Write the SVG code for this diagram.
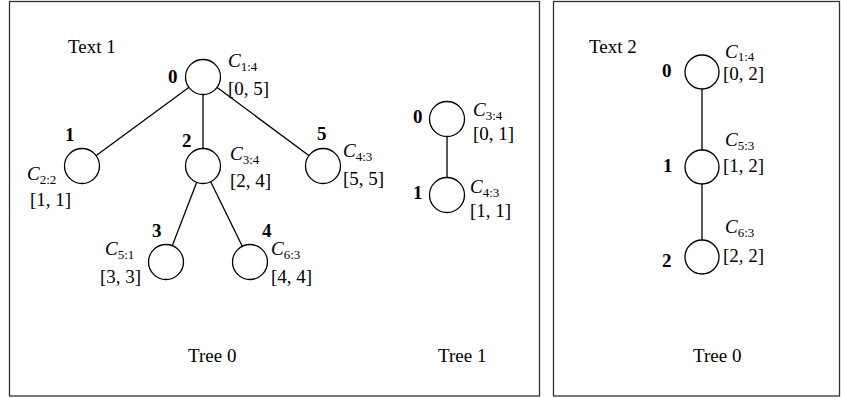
<svg xmlns="http://www.w3.org/2000/svg" width="841" height="398" viewBox="0 0 841 398">
<style>
.frame{fill:#fff;stroke:#333;stroke-width:1.3}
.nd{fill:#fff;stroke:#000;stroke-width:1.3}
.ed{stroke:#000;stroke-width:1.3;fill:none}
text{font-family:"Liberation Serif","Times New Roman",serif;font-size:19px;fill:#000}
.b{font-weight:bold}
.i{font-style:italic}
.s{font-size:13px;font-style:normal}
</style>
<rect width="841" height="398" fill="#fff"/>
<rect class="frame" x="9.5" y="1.5" width="530" height="394.5"/>
<rect class="frame" x="553.5" y="1.5" width="286" height="394.5"/>
<g id="connectors">
<line class="ed" x1="203" y1="77" x2="82" y2="166"/>
<line class="ed" x1="203" y1="77" x2="203" y2="166"/>
<line class="ed" x1="203" y1="77" x2="323" y2="166"/>
<line class="ed" x1="203" y1="166" x2="166" y2="262"/>
<line class="ed" x1="203" y1="166" x2="250" y2="262"/>
<line class="ed" x1="447" y1="119" x2="447" y2="195"/>
<line class="ed" x1="702" y1="72" x2="702" y2="167"/>
<line class="ed" x1="702" y1="167" x2="702" y2="257"/>
</g>
<text x="68" y="53">Text 1</text>
<text x="589" y="53">Text 2</text>
<g id="t0n0"><circle class="nd" cx="203" cy="77" r="17.5"/>
<text class="b" x="168" y="83">0</text>
<text class="i" x="228" y="67">C<tspan class="s" dy="4">1:4</tspan></text>
<text x="228" y="95">[0, 5]</text></g>
<g id="t0n1"><circle class="nd" cx="82" cy="166" r="17.5"/>
<text class="b" x="65" y="141">1</text>
<text class="i" x="27" y="180">C<tspan class="s" dy="4">2:2</tspan></text>
<text x="30" y="206">[1, 1]</text></g>
<g id="t0n2"><circle class="nd" cx="203" cy="166" r="17.5"/>
<text class="b" x="182" y="147">2</text>
<text class="i" x="230" y="160">C<tspan class="s" dy="4">3:4</tspan></text>
<text x="230" y="187">[2, 4]</text></g>
<g id="t0n5"><circle class="nd" cx="323" cy="166" r="17.5"/>
<text class="b" x="317" y="140">5</text>
<text class="i" x="343" y="157">C<tspan class="s" dy="4">4:3</tspan></text>
<text x="343" y="185">[5, 5]</text></g>
<g id="t0n3"><circle class="nd" cx="166" cy="262" r="17.5"/>
<text class="b" x="152" y="237">3</text>
<text class="i" x="105" y="255">C<tspan class="s" dy="4">5:1</tspan></text>
<text x="100" y="283">[3, 3]</text></g>
<g id="t0n4"><circle class="nd" cx="250" cy="262" r="17.5"/>
<text class="b" x="262" y="237">4</text>
<text class="i" x="271" y="255">C<tspan class="s" dy="4">6:3</tspan></text>
<text x="271" y="283">[4, 4]</text></g>
<text x="188" y="362">Tree 0</text>
<g id="t1n0"><circle class="nd" cx="447" cy="119" r="17.5"/>
<text class="b" x="413" y="123">0</text>
<text class="i" x="473" y="116">C<tspan class="s" dy="4">3:4</tspan></text>
<text x="473" y="140">[0, 1]</text></g>
<g id="t1n1"><circle class="nd" cx="447" cy="195" r="17.5"/>
<text class="b" x="413" y="199">1</text>
<text class="i" x="470" y="193">C<tspan class="s" dy="4">4:3</tspan></text>
<text x="470" y="217">[1, 1]</text></g>
<text x="438" y="362">Tree 1</text>
<g id="t2n0"><circle class="nd" cx="702" cy="72" r="17"/>
<text class="b" x="662" y="77">0</text>
<text class="i" x="725" y="58">C<tspan class="s" dy="3">1:4</tspan></text>
<text x="723" y="80">[0, 2]</text></g>
<g id="t2n1"><circle class="nd" cx="702" cy="167" r="17"/>
<text class="b" x="663" y="172">1</text>
<text class="i" x="725" y="146">C<tspan class="s" dy="4">5:3</tspan></text>
<text x="723" y="172">[1, 2]</text></g>
<g id="t2n2"><circle class="nd" cx="702" cy="257" r="17"/>
<text class="b" x="662" y="267">2</text>
<text class="i" x="725" y="233">C<tspan class="s" dy="4">6:3</tspan></text>
<text x="723" y="262">[2, 2]</text></g>
<text x="693" y="362">Tree 0</text>
</svg>
